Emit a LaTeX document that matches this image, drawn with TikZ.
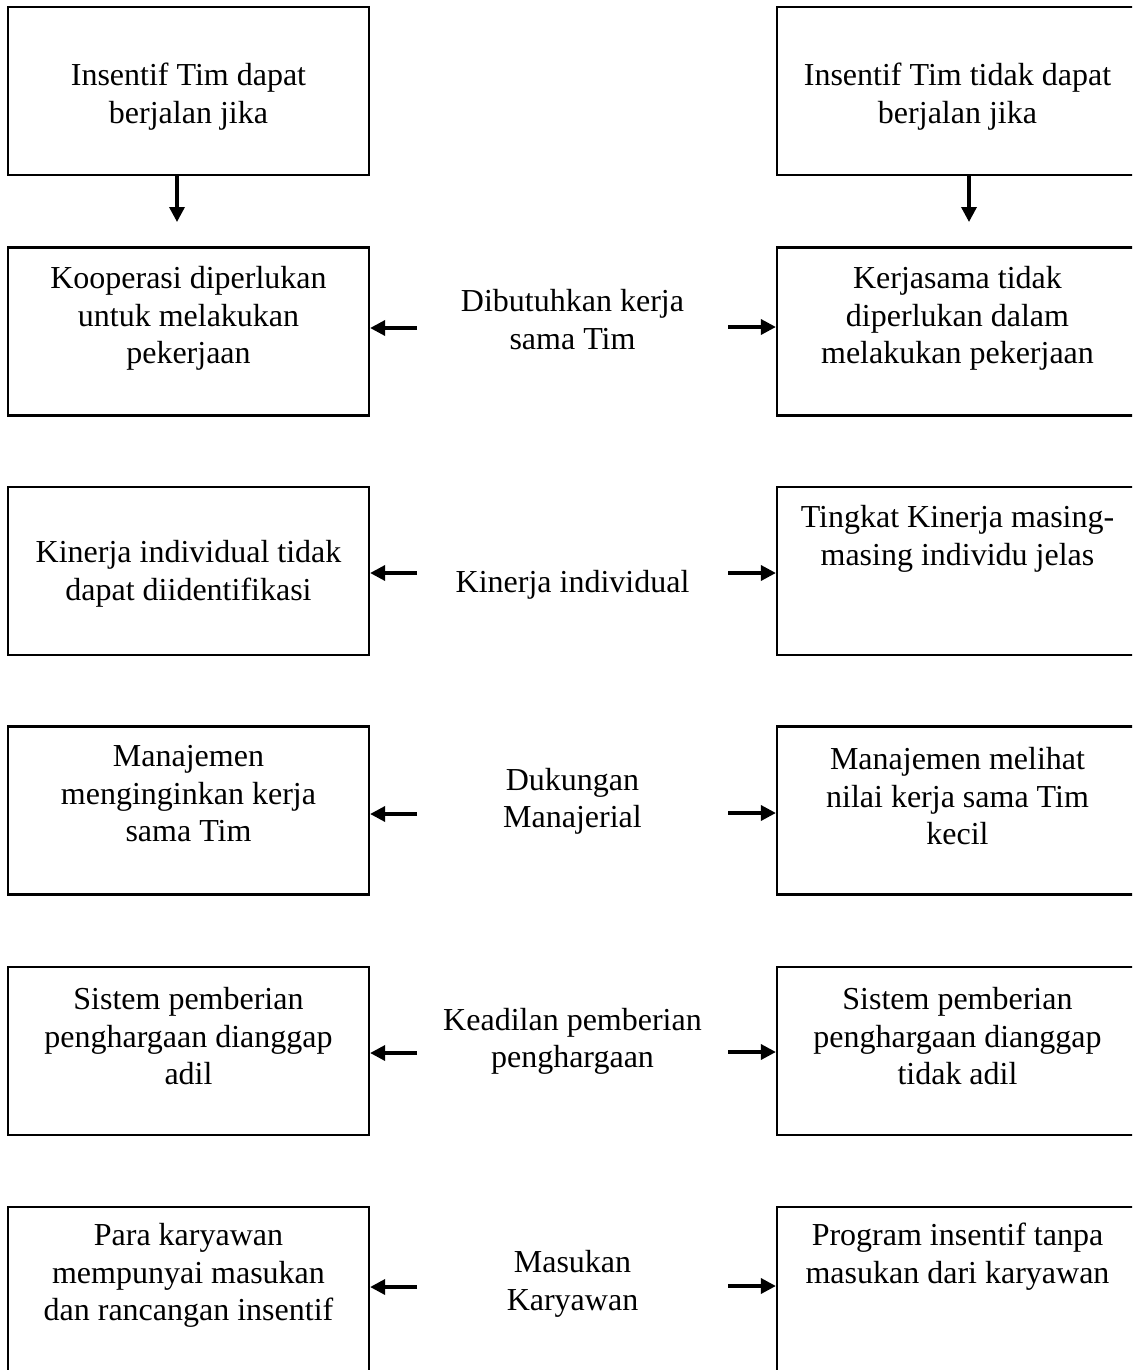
\documentclass[tikz,border=0pt]{standalone}
\usepackage{fontspec}
\setmainfont{Liberation Serif}
\usetikzlibrary{arrows.meta}

\begin{document}
\begin{tikzpicture}[
  x=0.5pt, y=-0.5pt,
  font=\fontsize{16}{18.75}\selectfont,
  box/.style={draw, line width=1.1pt, minimum width=180.5pt, minimum height=84pt,
              inner sep=0pt},
  txt/.style={anchor=north, align=center, inner sep=0pt},
  arr/.style={-{Triangle[length=7.5pt,width=7.5pt]}, line width=1.7pt},
]
\clip (0,0) rectangle (1132,1370);

% boxes
\node[box] (dapat)    at (188.5,91)   {};
\node[box] (tdkdapat) at (957.5,91)   {};
\node[box] (kiri1)  at (188.5,331.5)  {};
\node[box] (kanan1) at (957.5,331.5)  {};
\node[box] (kiri2)  at (188.5,571)    {};
\node[box] (kanan2) at (957.5,571)    {};
\node[box] (kiri3)  at (188.5,810.5)  {};
\node[box] (kanan3) at (957.5,810.5)  {};
\node[box] (kiri4)  at (188.5,1051)   {};
\node[box] (kanan4) at (957.5,1051)   {};
\node[box] (kiri5)  at (188.5,1291)   {};
\node[box] (kanan5) at (957.5,1291)   {};

% texts in the boxes
\node[txt] (tdapat)    at (188.5,63) {Insentif Tim dapat\\berjalan jika};
\node[txt] (ttdkdapat) at (957.5,63) {Insentif Tim tidak dapat\\berjalan jika};
\node[txt] (tkiri1)  at (188.5,266)  {Kooperasi diperlukan\\untuk melakukan\\pekerjaan};
\node[txt] (tkanan1) at (957.5,266)  {Kerjasama tidak\\diperlukan dalam\\melakukan pekerjaan};
\node[txt] (tkiri2)  at (188.5,540)  {Kinerja individual tidak\\dapat diidentifikasi};
\node[txt] (tkanan2) at (957.5,505)  {Tingkat Kinerja masing-\\masing individu jelas};
\node[txt] (tkiri3)  at (188.5,745)  {Manajemen\\menginginkan kerja\\sama Tim};
\node[txt] (tkanan3) at (957.5,747)  {Manajemen melihat\\nilai kerja sama Tim\\kecil};
\node[txt] (tkiri4)  at (188.5,987)  {Sistem pemberian\\penghargaan dianggap\\adil};
\node[txt] (tkanan4) at (957.5,987)  {Sistem pemberian\\penghargaan dianggap\\tidak adil};
\node[txt] (tkiri5)  at (188.5,1223) {Para karyawan\\mempunyai masukan\\dan rancangan insentif};
\node[txt] (tkanan5) at (957.5,1223) {Program insentif tanpa\\masukan dari karyawan};

% factors in the middle
\node[txt] (f1) at (572.5,289)    {Dibutuhkan kerja\\sama Tim};
\node[txt] (f2) at (572.5,570)    {Kinerja individual};
\node[txt] (f3) at (572.5,767.5)  {Dukungan\\Manajerial};
\node[txt] (f4) at (572.5,1007.5) {Keadilan pemberian\\penghargaan};
\node[txt] (f5) at (572.5,1250)   {Masukan\\Karyawan};

% arrow ends
\coordinate (d1) at (177,222);
\coordinate (d2) at (969,222);
\coordinate (p1) at (417,328);  \coordinate (q1) at (728,327);
\coordinate (p2) at (417,573);  \coordinate (q2) at (728,573);
\coordinate (p3) at (417,814);  \coordinate (q3) at (728,813);
\coordinate (p4) at (417,1053); \coordinate (q4) at (728,1052);
\coordinate (p5) at (417,1287); \coordinate (q5) at (728,1286);

% down arrows
\draw[arr] (dapat.south -| d1) -- (d1);
\draw[arr] (tdkdapat.south -| d2) -- (d2);

% side arrows
\draw[arr] (p1) -- (p1 -| kiri1.east);
\draw[arr] (q1) -- (q1 -| kanan1.west);
\draw[arr] (p2) -- (p2 -| kiri2.east);
\draw[arr] (q2) -- (q2 -| kanan2.west);
\draw[arr] (p3) -- (p3 -| kiri3.east);
\draw[arr] (q3) -- (q3 -| kanan3.west);
\draw[arr] (p4) -- (p4 -| kiri4.east);
\draw[arr] (q4) -- (q4 -| kanan4.west);
\draw[arr] (p5) -- (p5 -| kiri5.east);
\draw[arr] (q5) -- (q5 -| kanan5.west);
\end{tikzpicture}
\end{document}
